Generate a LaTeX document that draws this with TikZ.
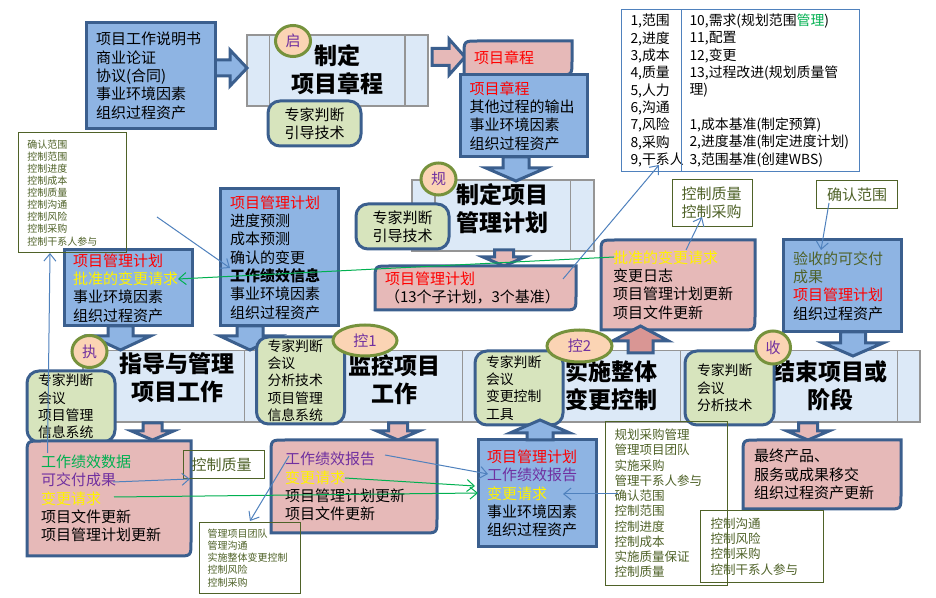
\documentclass[tikz,border=0pt]{standalone}
\usepackage{fontspec}
\setmainfont{Noto Sans CJK SC}
\usetikzlibrary{shapes.geometric,arrows.meta}
\definecolor{bfill}{HTML}{8EB4E3}
\definecolor{bline}{HTML}{3B5F8E}
\definecolor{pfill}{HTML}{E6B9B8}
\definecolor{pdark}{HTML}{D99694}
\definecolor{gfill}{HTML}{D7E4BD}
\definecolor{ofill}{HTML}{FBD4B4}
\definecolor{oline}{HTML}{76923C}
\definecolor{olv}{HTML}{4F6228}
\definecolor{pur}{HTML}{7030A0}
\definecolor{grn}{HTML}{00B050}
\definecolor{thinb}{HTML}{4F81BD}
\definecolor{bandf}{HTML}{DCE9F7}
\definecolor{bandl}{HTML}{959595}
\newcommand\tR[1]{\textcolor{red}{#1}}
\newcommand\tY[1]{\textcolor{yellow}{#1}}
\newcommand\tG[1]{\textcolor{grn}{#1}}
\newcommand\tP[1]{\textcolor{pur}{#1}}
\newcommand\tO[1]{\textcolor{olv}{#1}}
\newcommand\bx[7][10]{%
 \pgfmathsetmacro\tw{(#6-#4-2*#1)*0.75}%
 \pgfmathsetmacro\mw{(#6-#4)*0.75}%
 \pgfmathsetmacro\mh{(#7-#5)*0.75}%
 \pgfmathsetmacro\ipad{#1*0.75}%
 \bxtail{#1}{#2}{#3}{#4}{#5}{#6}{#7}}
\newcommand\bxtail[8]{%
 \node[align=left,#2,inner xsep=\ipad pt,inner ysep=0pt,text width=\tw pt,minimum width=\mw pt,minimum height=\mh pt] (#3) at ({(#4+#6)/2},{(#5+#7)/2}) {#8};}
\newcommand\pkpath[4]{%
 \draw[pinkshape] (#1,#2+14) .. controls (#1,#2) .. (#1+14,#2) -- (#3,#2) -- (#3,#4-14) .. controls (#3,#4) .. (#3-14,#4) -- (#1,#4) -- cycle;}
\newcommand\vblock[7]{%
 \draw[blockline,fill=#1] ({#2-#6},#3) -- ({#2-#6},#4) -- ({#2-#7},#4) -- (#2,#5) -- ({#2+#7},#4) -- ({#2+#6},#4) -- ({#2+#6},#3) -- cycle;}
\newcommand\hblock[7]{%
 \draw[blockline,fill=#1] (#3,{#2-#6}) -- (#4,{#2-#6}) -- (#4,{#2-#7}) -- (#5,#2) -- (#4,{#2+#7}) -- (#4,{#2+#6}) -- (#3,{#2+#6}) -- cycle;}
\newcommand\procmark[6]{%
 \pgfmathsetmacro\ow{2*#4*0.75}\pgfmathsetmacro\oh{2*#5*0.75}%
 \node[ovalstyle,minimum width=\ow pt,minimum height=\oh pt] (#1) at (#2,#3) {#6};}
\tikzset{
 fa/.style={font=\fontsize{11.25pt}{13.75pt}\selectfont},
 fb/.style={font=\fontsize{10.4pt}{13pt}\selectfont},
 fc/.style={font=\fontsize{9.4pt}{11.45pt}\selectfont},
 fd/.style={font=\fontsize{7.5pt}{9.1pt}\selectfont},
 ttl/.style={font=\fontsize{17.25pt}{21pt}\selectfont\bfseries,align=center,inner sep=0pt},
 bluebox/.style={draw=bline,line width=2.25pt,fill=bfill,fa},
 greenbox/.style={draw=bline,line width=2.25pt,fill=gfill,rounded corners=9pt,fb},
 pinkshape/.style={draw=bline,line width=2.25pt,fill=pfill},
 pinktext/.style={fa},
 blockline/.style={draw=bline,line width=2.25pt,miter limit=10},
 bandcell/.style={draw=bandl,line width=1pt,fill=bandf},
 ovalstyle/.style={ellipse,draw=oline,line width=2.25pt,fill=ofill,inner sep=0pt,text=pur,fa},
 olist/.style={draw=olv,line width=.75pt,text=olv},
 tbl/.style={draw=thinb,line width=.75pt,fb},
 thinblue/.style={draw=thinb,line width=.75pt,-{Straight Barb[length=5.5pt,width=9pt]}},
 thingreen/.style={draw=grn,line width=.75pt,-{Straight Barb[length=5.5pt,width=9pt]}},
}
\begin{document}
\begin{tikzpicture}[x=0.75pt,y=-0.75pt]
\useasboundingbox (0,0) rectangle (936,598);
\fill[white] (0,0) rectangle (936,598);

% process bands
\bx[0]{bandcell}{b1l}{247}{35}{269.5}{106}{}
\bx[0]{bandcell}{b1m}{269.5}{35}{405}{106}{}
\bx[0]{bandcell}{b1r}{405}{35}{428}{106}{}
\bx[0]{bandcell}{b2l}{412}{180}{435}{251}{}
\bx[0]{bandcell}{b2m}{435}{180}{570.5}{251}{}
\bx[0]{bandcell}{b2r}{570.5}{180}{594}{251}{}
\bx[0]{bandcell}{b3a}{83}{350.5}{244.5}{422}{}
\bx[0]{bandcell}{b3b}{244.5}{350.5}{462.5}{422}{}
\bx[0]{bandcell}{b3c}{462.5}{350.5}{680.5}{422}{}
\bx[0]{bandcell}{b3d}{680.5}{350.5}{897.5}{422}{}
\bx[0]{bandcell}{b3e}{897.5}{350.5}{920}{422}{}
\node[ttl] (t1) at (337,69.5) {制定\\项目章程};
\node[ttl] (t2) at (502,208.5) {制定项目\\管理计划};
\node[ttl] (t3a) at (177,378) {指导与管理\\项目工作};
\node[ttl] (t3b) at (394,379.5) {监控项目\\工作};
\node[ttl] (t3c) at (611,385.5) {实施整体\\变更控制};
\node[ttl] (t3d) at (830,386) {结束项目或\\阶段};

% block arrows going down into the bands
\vblock{bfill}{120.5}{326}{336}{350}{12.5}{30}
\vblock{bfill}{250}{326}{336}{350}{13}{30}
\vblock{bfill}{516}{157}{168}{181}{13}{30}
\vblock{bfill}{853}{332}{343}{356}{12.5}{30}
\vblock{pfill}{504}{250}{257}{266}{9.5}{21}
\vblock{pfill}{152.5}{423}{431}{440}{9.5}{21}
\vblock{pfill}{398}{423}{431}{440}{9.5}{21}
\vblock{pfill}{808}{423}{431}{440}{9.5}{21}
\hblock{bfill}{68}{215}{230}{247}{8}{18}
\hblock{pfill}{57}{432}{449}{465}{8.5}{18}

% input / output boxes
\bx[10]{bluebox}{inA}{86}{23}{215}{129}{项目工作说明书\\商业论证\\协议(合同)\\事业环境因素\\组织过程资产}
\pkpath{464}{41}{572}{75}
\bx[10]{pinktext}{outA}{464}{41}{572}{75}{\tR{项目章程}}
\bx[9.5]{bluebox}{inB}{460}{75}{587}{157}{\tR{项目章程}\\其他过程的输出\\事业环境因素\\组织过程资产}
\pkpath{375}{266}{576}{310}
\bx[10]{pinktext}{outB}{375}{266}{576}{310}{\tR{项目管理计划}\\（13个子计划，3个基准）}
\bx[9]{bluebox}{inC}{64}{250}{192}{326}{\tR{项目管理计划}\\\tY{批准的变更请求}\\事业环境因素\\组织过程资产}
\bx[10]{bluebox}{inD}{220}{189}{338}{326}{\tR{项目管理计划}\\进度预测\\成本预测\\确认的变更\\\textbf{工作绩效信息}\\事业环境因素\\组织过程资产}
\pkpath{601}{240}{755}{330}
\bx[12]{pinktext}{outE}{601}{240}{755}{330}{\tY{批准的变更请求}\\变更日志\\项目管理计划更新\\项目文件更新}
\bx[10]{bluebox}{inG}{783}{240}{901}{332}{\tO{验收的可交付}\\\tO{成果}\\\tR{项目管理计划}\\组织过程资产}
\bx[9]{bluebox}{inE}{478}{440}{596}{547}{\tR{项目管理计划}\\\tP{工作绩效报告}\\\tY{变更请求}\\事业环境因素\\组织过程资产}

% tools and techniques
\bx[0]{greenbox,fa,align=center}{toolA}{268}{101}{361}{146}{专家判断\\引导技术}
\bx[0]{greenbox,fa,align=center}{toolB}{356}{204}{449}{249}{专家判断\\引导技术}
\bx[11]{greenbox}{toolC}{27}{371}{115}{442}{专家判断\\会议\\项目管理\\信息系统}
\bx[11]{greenbox}{toolD}{256.5}{337}{344.5}{424}{专家判断\\会议\\分析技术\\项目管理\\信息系统}
\bx[11]{greenbox}{toolE}{475}{351}{563}{425}{专家判断\\会议\\变更控制\\工具}
\bx[12]{greenbox}{toolF}{685}{351}{774}{425}{专家判断\\会议\\分析技术}

% boxes lying over the tools
\pkpath{27}{441}{191}{556}
\bx[14]{pinktext}{outC}{27}{441}{191}{556}{\tG{工作绩效数据}\\\tP{可交付成果}\\\tY{变更请求}\\项目文件更新\\项目管理计划更新}
\pkpath{271}{440}{437}{533}
\bx[14]{pinktext}{outD}{271}{440}{437}{533}{\tP{工作绩效报告}\\\tY{变更请求}\\项目管理计划更新\\项目文件更新}
\pkpath{743}{440}{901}{509}
\bx[11]{pinktext}{outG}{743}{440}{901}{509}{最终产品、\\服务或成果移交\\组织过程资产更新}

% arrows going up, over the tools
\vblock{pdark}{640.5}{353}{341}{326}{12.5}{28}
\vblock{bfill}{540}{440}{433}{420}{13}{30}

% process markers
\procmark{mA}{293}{41}{17.5}{15.5}{启}
\procmark{mB}{438.5}{179}{17.5}{16}{规}
\procmark{mC}{89.5}{351.5}{17.5}{16}{执}
\procmark{mD}{365}{340.5}{32}{15.5}{控1}
\procmark{mE}{579.5}{346}{32.5}{16}{控2}
\procmark{mF}{773}{347.5}{17.5}{16.5}{收}

% lists of related processes
\bx[9]{olist,fd}{listA}{18.5}{132.5}{126.5}{253}{确认范围\\控制范围\\控制进度\\控制成本\\控制质量\\控制沟通\\控制风险\\控制采购\\控制干系人参与}
\bx[8]{olist,fa}{listB}{183.5}{450.5}{264.5}{478.5}{控制质量}
\bx[8]{olist,fd}{listC}{199.5}{522.5}{300.5}{593.5}{管理项目团队\\管理沟通\\实施整体变更控制\\控制风险\\控制采购}
\bx[9]{olist,fc}{listD}{605.5}{421.5}{727.5}{585.5}{规划采购管理\\管理项目团队\\实施采购\\管理干系人参与\\确认范围\\控制范围\\控制进度\\控制成本\\实施质量保证\\控制质量}
\bx[10]{olist,fc}{listE}{700.5}{510.5}{823.5}{582.5}{控制沟通\\控制风险\\控制采购\\控制干系人参与}
\bx[9]{olist,fa}{listF}{672.5}{179.5}{752.5}{226.5}{控制质量\\控制采购}
\bx[0]{olist,fa,align=center}{listG}{816.5}{180.5}{897.5}{208.5}{确认范围}

% plan table
\bx[9]{tbl}{tblL}{621.5}{9.5}{681.5}{171.5}{1,范围\\2,进度\\3,成本\\4,质量\\5,人力\\6,沟通\\7,风险\\8,采购\\9,干系人}
\bx[8]{tbl}{tblR}{681.5}{9.5}{859.5}{171.5}{10,需求(规划范围\tG{管理})\\11,配置\\12,变更\\13,过程改进(规划质量管\\理)\\[13pt]1,成本基准(制定预算)\\2,进度基准(制定进度计划)\\3,范围基准(创建WBS)}

% connector ends
\coordinate (a1s) at (47.5,453);  \coordinate (a1t) at (50,253);
\coordinate (a2s) at (157,217);   \coordinate (a2t) at (230,268);
\coordinate (a3s) at (614,257);   \coordinate (a3t) at (178,279);
\coordinate (a4s) at (563,279);   \coordinate (a4t) at (659,165);
\coordinate (a5s) at (686,250);   \coordinate (a5t) at (702,217);
\coordinate (a6s) at (829,203);   \coordinate (a6t) at (821,250);
\coordinate (a7s) at (113,482);   \coordinate (a7t) at (190,479);
\coordinate (a8s) at (114,497);   \coordinate (a8t) at (478,493);
\coordinate (a9s) at (345,478);   \coordinate (a9t) at (475,486);
\coordinate (a10s) at (385,455);  \coordinate (a10t) at (488,474);
\coordinate (a11s) at (289,456);  \coordinate (a11t) at (250,521);
\coordinate (a12s) at (618,494);  \coordinate (a12t) at (563,494);

\draw[thinblue] (a1s) -- (a1t);
\draw[thinblue] (a2s) -- (a2t);
\draw[thingreen] (a3s) -- (a3t);
\draw[thinblue] (a4s) -- (a4t);
\draw[thinblue] (a5s) -- (a5t);
\draw[thinblue] (a6s) -- (a6t);
\draw[thinblue] (a7s) -- (a7t);
\draw[thingreen] (a8s) -- (a8t);
\draw[thingreen] (a9s) -- (a9t);
\draw[thinblue] (a10s) -- (a10t);
\draw[thinblue] (a11s) -- (a11t);
\draw[thinblue] (a12s) -- (a12t);
\end{tikzpicture}
\end{document}
